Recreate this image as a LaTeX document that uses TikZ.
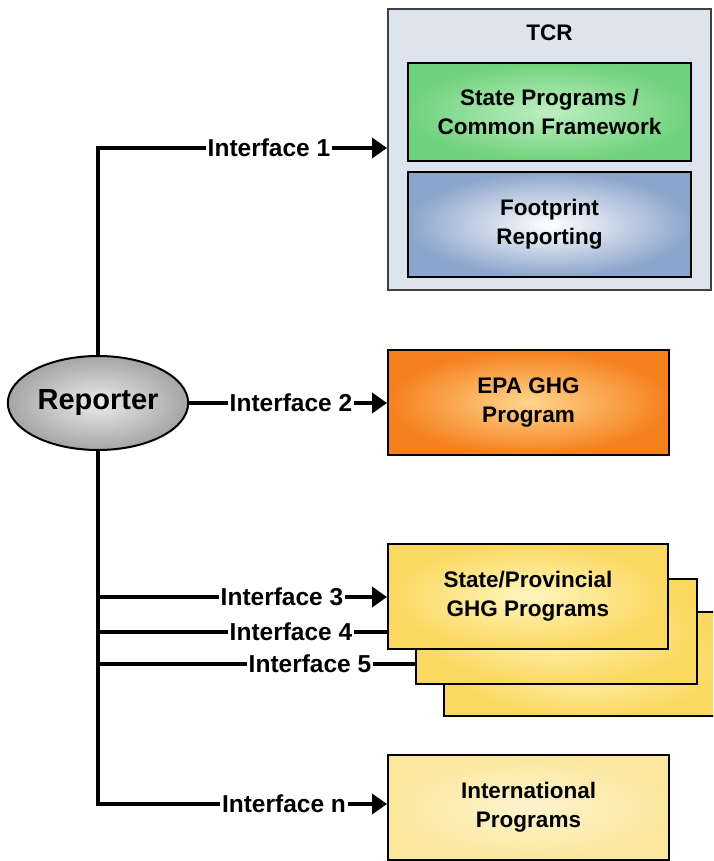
\documentclass[tikz,border=0pt]{standalone}
\usepackage{fontspec}
\setmainfont{Liberation Sans}
\usepackage{tikz}
\usetikzlibrary{shapes.geometric, arrows.meta}
\definecolor{tcrBg}{RGB}{222, 228, 238}
\definecolor{tcrLine}{RGB}{64, 64, 64}
\definecolor{fwGreen}{RGB}{112, 210, 124}
\definecolor{fwGreenIn}{RGB}{190, 238, 194}
\definecolor{fpBlue}{RGB}{140, 165, 204}
\definecolor{epaOrange}{RGB}{245, 128, 30}
\definecolor{epaOrangeIn}{RGB}{255, 214, 140}
\definecolor{stYellow}{RGB}{251, 216, 96}
\definecolor{stYellowIn}{RGB}{255, 245, 190}
\definecolor{intYellow}{RGB}{251, 232, 158}
\definecolor{intYellowIn}{RGB}{253, 243, 205}
\definecolor{repGray}{RGB}{165, 165, 165}
\definecolor{repGrayIn}{RGB}{235, 235, 235}

\begin{document}
\begin{tikzpicture}[x=1pt, y=-1pt,
    font=\fontsize{22.5}{29}\selectfont\bfseries,
    box/.style={draw=black, line width=2pt, align=center, inner sep=0pt},
    conn/.style={line width=3.8pt},
    arr/.style={line width=3.8pt, -{Triangle[length=15pt, width=20pt]}},
    iface/.style={inner sep=2pt, font=\fontsize{24.5}{29}\selectfont\bfseries}]
  \clip (0,0) rectangle (713,861);

  \node[box, draw=tcrLine, fill=tcrBg, minimum width=323, minimum height=281] (tcr) at (549.5,149.5) {};
  \node (tcrtitle) at (549.5,33) {TCR};
  \node[box, inner color=fwGreenIn, outer color=fwGreen, minimum width=283, minimum height=98] (statefw) at (549.5,112) {State Programs /\\Common Framework};
  \node[box, inner color=white, outer color=fpBlue, minimum width=283, minimum height=105] (footprint) at (549.5,224.5) {Footprint\\Reporting};

  \node[draw=black, line width=2pt, ellipse, inner color=repGrayIn, outer color=repGray, minimum width=180, minimum height=94, font=\fontsize{29}{34}\selectfont\bfseries] (reporter) at (98,403) {Reporter};

  \node[box, inner color=epaOrangeIn, outer color=epaOrange, minimum width=281, minimum height=105] (epa) at (528.5,402.5) {EPA GHG\\Program};

  \node[box, inner color=stYellowIn, outer color=stYellow, minimum width=281, minimum height=104] (stateb) at (584.5,664) {};
  \node[box, inner color=stYellowIn, outer color=stYellow, minimum width=281, minimum height=105] (statea) at (556.5,631.5) {};
  \node[box, inner color=stYellowIn, outer color=stYellow, minimum width=280, minimum height=105] (state) at (528,596.5) {State/Provincial\\GHG Programs};

  \node[box, inner color=intYellowIn, outer color=intYellow, minimum width=281, minimum height=105] (intl) at (528.5,807.5) {International\\Programs};

  \node[iface] (if1) at (269,148) {Interface 1};
  \node[iface] (if2) at (291,403) {Interface 2};
  \node[iface] (if3) at (282,597) {Interface 3};
  \node[iface] (if4) at (291,632) {Interface 4};
  \node[iface] (if5) at (310,664) {Interface 5};
  \node[iface] (ifn) at (284,804) {Interface n};

  \draw[conn] (reporter.north) |- (if1.west);
  \draw[arr] (if1.east) -- (if1.east -| tcr.west);
  \draw[conn] (reporter.east) -- (if2.west);
  \draw[arr] (if2.east) -- (if2.east -| epa.west);
  \draw[conn] (reporter.south) |- (ifn.west);
  \draw[arr] (ifn.east) -- (ifn.east -| intl.west);
  \draw[conn] (reporter.south |- if3.west) -- (if3.west);
  \draw[arr] (if3.east) -- (if3.east -| state.west);
  \draw[conn] (reporter.south |- if4.west) -- (if4.west);
  \draw[conn] (if4.east) -- (if4.east -| state.west);
  \draw[conn] (reporter.south |- if5.west) -- (if5.west);
  \draw[conn] (if5.east) -- (if5.east -| statea.west);
\end{tikzpicture}
\end{document}
